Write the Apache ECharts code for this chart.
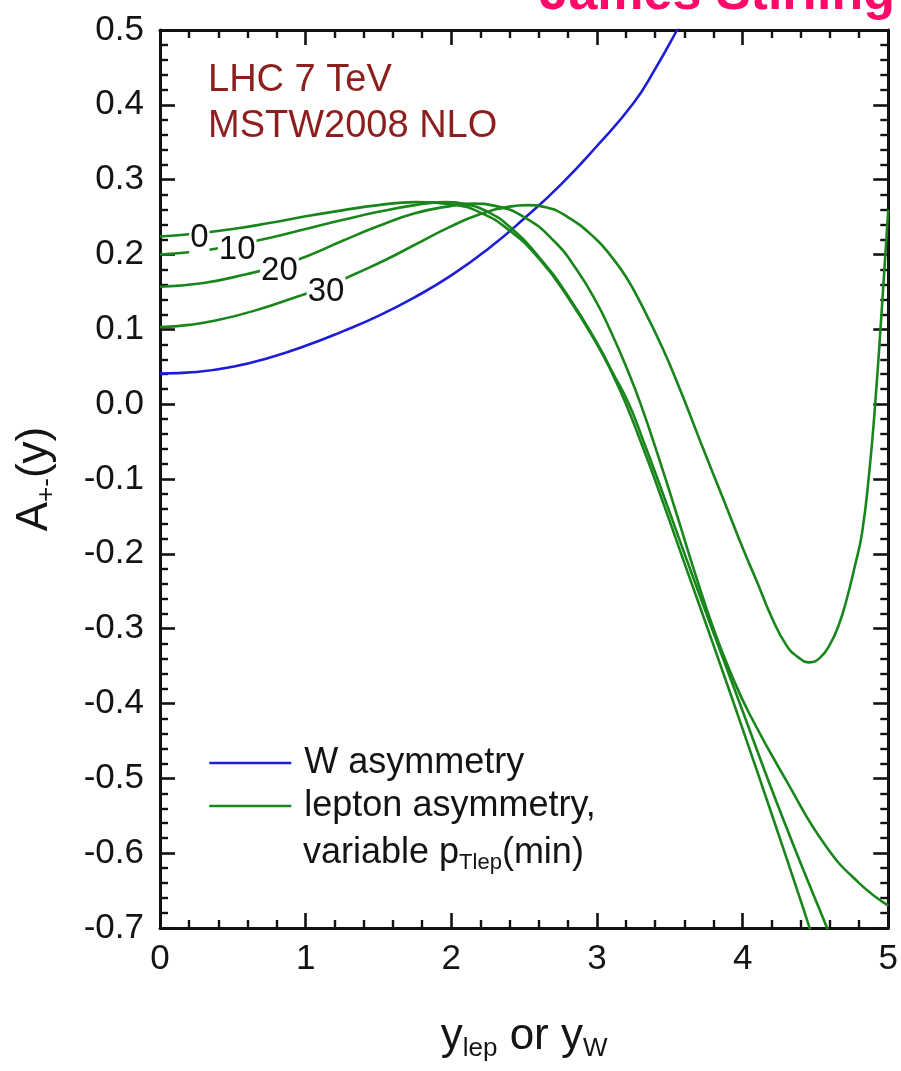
<!DOCTYPE html>
<html><head><meta charset="utf-8">
<script src="https://cdn.jsdelivr.net/npm/echarts@6/dist/echarts.min.js"></script>
<style>html,body{margin:0;padding:0;background:#fff}#c{width:901px;height:1071px}</style>
</head><body><div id="c"></div>
<script>
const FONT = '"Liberation Sans", Arial, Helvetica, sans-serif';

// W asymmetry
const wX = [0, 0.25, 0.5, 0.75, 1.0, 1.25, 1.5, 1.75, 2.0, 2.25, 2.5, 2.75, 3.0, 3.25, 3.4, 3.55, 3.7];
const wY = [0.041, 0.043, 0.05, 0.062, 0.078, 0.097, 0.118, 0.143, 0.172, 0.207, 0.248, 0.293, 0.345, 0.402, 0.448, 0.5, 0.555];

// lepton asymmetry, pT(min) = 0
const c0X = [0, 0.25, 0.5, 0.75, 1.0, 1.25, 1.5, 1.75, 2.0, 2.2, 2.4, 2.6, 2.8, 3.0, 3.1, 3.2, 3.3, 3.4, 3.6, 3.8, 4.0, 4.2, 4.4, 4.47, 4.55];
const c0Y = [0.224, 0.228, 0.234, 0.242, 0.251, 0.259, 0.266, 0.27, 0.267, 0.256, 0.232, 0.195, 0.143, 0.08, 0.043, 0.0, -0.05, -0.102, -0.212, -0.322, -0.434, -0.548, -0.664, -0.706, -0.752];
// pT(min) = 10
const c10X = [0, 0.25, 0.5, 0.75, 1.0, 1.25, 1.5, 1.75, 1.95, 2.1, 2.25, 2.4, 2.6, 2.8, 3.0, 3.1, 3.22, 3.32, 3.42, 3.62, 3.82, 4.0, 4.2, 4.4, 4.58, 4.66];
const c10Y = [0.2, 0.204, 0.212, 0.222, 0.234, 0.246, 0.257, 0.266, 0.27, 0.267, 0.257, 0.237, 0.197, 0.145, 0.082, 0.045, 0.0, -0.05, -0.102, -0.21, -0.316, -0.41, -0.515, -0.614, -0.7, -0.74];
// pT(min) = 20
const c20X = [0, 0.3, 0.6, 0.8, 1.0, 1.25, 1.5, 1.75, 2.0, 2.15, 2.3, 2.5, 2.7, 2.86, 3.0, 3.1, 3.19, 3.3, 3.43, 3.56, 3.68, 3.8, 3.92, 4.05, 4.3, 4.57, 4.8, 5.0];
const c20Y = [0.157, 0.162, 0.174, 0.184, 0.197, 0.218, 0.238, 0.255, 0.265, 0.268, 0.265, 0.25, 0.219, 0.18, 0.135, 0.095, 0.055, 0.0, -0.075, -0.155, -0.23, -0.3, -0.36, -0.415, -0.503, -0.59, -0.64, -0.67];
// pT(min) = 30
const c30X = [0, 0.2, 0.39, 0.65, 0.93, 1.15, 1.35, 1.55, 1.75, 1.98, 2.2, 2.4, 2.52, 2.65, 2.8, 2.98, 3.1, 3.2, 3.3, 3.45, 3.58, 3.72, 3.87, 4.0, 4.1, 4.2, 4.3, 4.38, 4.46, 4.53, 4.6, 4.66, 4.71, 4.77, 4.82, 4.87, 4.91, 4.955, 5.0];
const c30Y = [0.103, 0.106, 0.112, 0.125, 0.143, 0.158, 0.175, 0.193, 0.213, 0.236, 0.254, 0.264, 0.266, 0.263, 0.25, 0.223, 0.197, 0.17, 0.135, 0.075, 0.015, -0.055, -0.128, -0.192, -0.238, -0.285, -0.322, -0.338, -0.345, -0.339, -0.321, -0.295, -0.264, -0.217, -0.172, -0.09, 0.0, 0.125, 0.26];

const curveLabels = ['0', '10', '20', '30'];
const curveLabelX = [0.27, 0.53, 0.82, 1.14];

const BLUE = '#1d1dd6';
const GREEN = '#19861c';
const INK = '#141414';

function pairs(xs, ys) { return xs.map((x, i) => [x, ys[i]]); }
function interp(xs, ys, x) {
  for (let i = 0; i < xs.length - 1; i++) {
    if (x >= xs[i] && x <= xs[i + 1]) {
      const t = (x - xs[i]) / (xs[i + 1] - xs[i]);
      return ys[i] + t * (ys[i + 1] - ys[i]);
    }
  }
  return ys[ys.length - 1];
}
const greenX = [c0X, c10X, c20X, c30X];
const greenY = [c0Y, c10Y, c20Y, c30Y];
const labelData = curveLabels.map((t, i) => ({ name: t, value: [curveLabelX[i], interp(greenX[i], greenY[i], curveLabelX[i])] }));

function lineSeries(name, xs, ys, color) {
  return {
    name: name, type: 'line', data: pairs(xs, ys),
    smooth: 0.5, showSymbol: false, symbol: 'none',
    lineStyle: { color: color, width: 2.6 }, itemStyle: { color: color },
    clip: true, z: 3, silent: true
  };
}

const tickCommon = {
  axisLine: { show: true, onZero: false, lineStyle: { color: '#111', width: 3 } },
  axisTick: { show: true, inside: true, length: 15, lineStyle: { color: '#111', width: 2.6 } },
  minorTick: { show: true, splitNumber: 5, length: 8, lineStyle: { color: '#111', width: 2.4 } },
  splitLine: { show: false }, minorSplitLine: { show: false }
};

const chart = echarts.init(document.getElementById('c'), null, { renderer: 'canvas' });
chart.setOption({
  animation: false,
  backgroundColor: '#fff',
  grid: { left: 160, right: 8, top: 30, bottom: 143, containLabel: false },
  xAxis: [
    Object.assign({
      type: 'value', min: 0, max: 5, interval: 1, position: 'bottom',
      axisLabel: { fontSize: 35, color: INK, fontFamily: FONT, margin: 14 },
      name: '{a|y}{s|lep}{a| or y}{s|W}', nameLocation: 'middle', nameGap: 84,
      nameTextStyle: { rich: {
        a: { fontSize: 44, fontFamily: FONT, color: INK, lineHeight: 50, verticalAlign: 'middle' },
        s: { fontSize: 26, fontFamily: FONT, color: INK, lineHeight: 20, verticalAlign: 'bottom' }
      } }
    }, tickCommon),
    Object.assign({
      type: 'value', min: 0, max: 5, interval: 1, position: 'top',
      axisLabel: { show: false }
    }, tickCommon)
  ],
  yAxis: [
    Object.assign({
      type: 'value', min: -0.7, max: 0.5, interval: 0.1, position: 'left',
      axisLabel: { fontSize: 35, color: INK, fontFamily: FONT, margin: 16,
        formatter: v => (Math.abs(v) < 1e-9 ? 0 : v).toFixed(1) },
      name: '{a|A}{s|+-}{a|(y)}', nameLocation: 'middle', nameGap: 100, nameRotate: 90,
      nameTextStyle: { rich: {
        a: { fontSize: 44, fontFamily: FONT, color: INK, lineHeight: 50, verticalAlign: 'middle' },
        s: { fontSize: 26, fontFamily: FONT, color: INK, lineHeight: 20, verticalAlign: 'bottom' }
      } }
    }, tickCommon),
    Object.assign({
      type: 'value', min: -0.7, max: 0.5, interval: 0.1, position: 'right',
      axisLabel: { show: false }
    }, tickCommon)
  ],
  legend: {
    show: true, orient: 'vertical', left: 208, top: 742, itemGap: 1, padding: 0,
    itemWidth: 82, itemHeight: 20,
    data: ['W asymmetry', 'lepton asymmetry,'],
    itemStyle: { opacity: 0 },
    lineStyle: { width: 2.6 },
    textStyle: { fontSize: 36, fontFamily: FONT, color: INK, lineHeight: 42, padding: [0, 0, 0, 8] },
    selectedMode: false
  },
  graphic: [
    { type: 'text', x: 208, y: 81, silent: true,
      style: { text: 'LHC 7 TeV', font: '38px ' + FONT, fill: '#8c1e1e', verticalAlign: 'middle', align: 'left' } },
    { type: 'text', x: 208, y: 127, silent: true,
      style: { text: 'MSTW2008 NLO', font: '38px ' + FONT, fill: '#8c1e1e', verticalAlign: 'middle', align: 'left' } },
    { type: 'text', x: 303, y: 853, silent: true,
      style: { text: '{t|variable p}{s|Tlep}{t|(min)}', verticalAlign: 'middle', align: 'left',
        rich: {
          t: { fontSize: 36, fontFamily: FONT, fill: INK, color: INK, lineHeight: 42, verticalAlign: 'middle' },
          s: { fontSize: 22, fontFamily: FONT, fill: INK, color: INK, lineHeight: 20, verticalAlign: 'bottom' }
        } } },
    { type: 'text', x: 895, y: 21, silent: true,
      style: { text: 'James Stirling', font: 'bold 52px ' + FONT, fill: '#ff0a6a', verticalAlign: 'bottom', align: 'right' } }
  ],
  series: [
    lineSeries('W asymmetry', wX, wY, BLUE),
    lineSeries('lepton asymmetry,', c0X, c0Y, GREEN),
    lineSeries('lepton asymmetry,', c10X, c10Y, GREEN),
    lineSeries('lepton asymmetry,', c20X, c20Y, GREEN),
    lineSeries('lepton asymmetry,', c30X, c30Y, GREEN),
    {
      name: 'cut labels', type: 'scatter', data: labelData, symbolSize: 1,
      itemStyle: { color: '#ffffff', opacity: 1 }, z: 10, silent: true,
      label: { show: true, position: 'inside', formatter: '{b}', fontSize: 33, fontFamily: FONT,
        color: '#111111', opacity: 1, textBorderWidth: 0, textBorderColor: 'transparent',
        backgroundColor: '#ffffff', padding: [0, 1, 0, 1], offset: [0, 5] },
      emphasis: { disabled: true }
    }
  ]
});
</script></body></html>
